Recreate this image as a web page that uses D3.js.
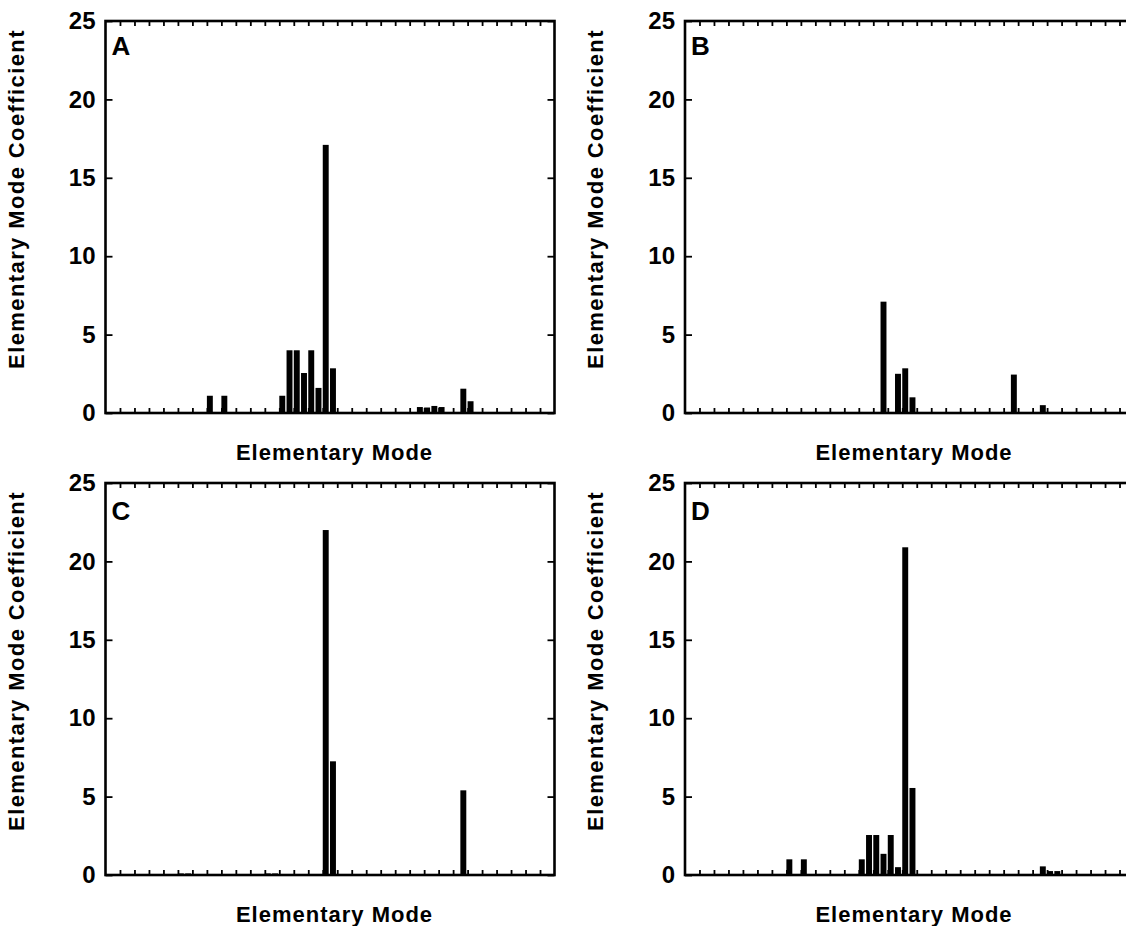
<!DOCTYPE html>
<html>
<head>
<meta charset="utf-8">
<script src="https://cdn.jsdelivr.net/npm/d3@7"></script>
<style>
  body { margin: 0; background: #fff; }
  svg text { font-family: "Liberation Sans", Arial, Helvetica, sans-serif; font-weight: bold; fill: #000; }
</style>
</head>
<body>
<svg id="chart" width="1126" height="926"></svg>
<script>
// Data: bar positions (in tick units) and coefficients
const panelLetters = ["A", "B", "C", "D"];

const modesA  = [7, 8, 12, 12.5, 13, 13.5, 14, 14.5, 15, 15.5, 16, 21.5, 22, 22.5, 23, 24, 24.5, 25];
const valuesA = [1.1, 1.1, 1.1, 4.0, 4.0, 2.55, 4.0, 1.6, 17.1, 2.85, 0.05, 0.38, 0.35, 0.45, 0.38, 0.05, 1.55, 0.75];

const modesB  = [13.5, 14.5, 15, 15.5, 22.5, 24.5];
const valuesB = [7.1, 2.5, 2.85, 1.0, 2.45, 0.5];

const modesC  = [5, 5.5, 11, 11.5, 15, 15.5, 24.5];
const valuesC = [0.1, 0.1, 0.1, 0.1, 22.0, 7.25, 5.4];

const modesD  = [7, 8, 12, 12.5, 13, 13.5, 14, 14.5, 15, 15.5, 24.5, 25, 25.5];
const valuesD = [1.0, 1.0, 1.0, 2.55, 2.55, 1.35, 2.55, 0.5, 20.9, 5.55, 0.55, 0.25, 0.25];

const yTicks = [0, 5, 10, 15, 20, 25];
const xTicks = d3.range(1, 31);

const xTitle = "Elementary Mode";
const yTitle = "Elementary Mode Coefficient";

// Layout
const plotW = 449, plotH = 392;
const panels = [
    { letter: panelLetters[0], modes: modesA, values: valuesA, left: 105.5, top: 21 },
    { letter: panelLetters[1], modes: modesB, values: valuesB, left: 685, top: 21 },
    { letter: panelLetters[2], modes: modesC, values: valuesC, left: 105.5, top: 483 },
    { letter: panelLetters[3], modes: modesD, values: valuesD, left: 685, top: 483 }
];

const svg = d3.select("#chart");

const x = d3.scaleLinear().domain([0, 31]).range([0, plotW]);
const y = d3.scaleLinear().domain([0, 25]).range([plotH, 0]);
const barW = x(0.41) - x(0);

panels.forEach(p => {
    const g = svg.append("g").attr("transform", `translate(${p.left},${p.top})`);

    // bars
    g.selectAll(".bar")
        .data(p.modes.map((m, i) => ({ m: m, v: p.values[i] })))
        .enter()
        .append("rect")
        .attr("class", "bar")
        .attr("x", d => x(d.m))
        .attr("y", d => y(d.v))
        .attr("width", barW)
        .attr("height", d => plotH - y(d.v))
        .attr("fill", "#000");

    // axes, ticks pointing inward
    const left = g.append("g")
        .call(d3.axisLeft(y).tickValues(yTicks).tickSize(-7).tickPadding(10));
    left.selectAll("text").style("font-size", "24px");

    g.append("g").attr("transform", `translate(${plotW},0)`)
        .call(d3.axisRight(y).tickValues(yTicks).tickSize(-7).tickFormat(""));

    g.append("g").attr("transform", `translate(0,${plotH})`)
        .call(d3.axisBottom(x).tickValues(xTicks).tickSize(-5).tickFormat(""));

    g.append("g")
        .call(d3.axisTop(x).tickValues(xTicks).tickSize(-5).tickFormat(""));

    g.selectAll(".domain").remove();
    g.selectAll(".tick line").attr("stroke", "#000").attr("stroke-width", 1.8);

    // frame
    g.append("rect")
        .attr("width", plotW)
        .attr("height", plotH)
        .attr("fill", "none")
        .attr("stroke", "#000")
        .attr("stroke-width", 2.6);

    // panel letter
    g.append("text")
        .attr("x", 6)
        .attr("y", p.top < 100 ? 34 : 37)
        .style("font-size", "26px")
        .text(p.letter);

    // axis titles
    g.append("text")
        .attr("x", 229)
        .attr("y", plotH + 47)
        .attr("text-anchor", "middle")
        .style("font-size", "22px")
        .style("letter-spacing", "1px")
        .text(xTitle);

    g.append("text")
        .attr("transform", `translate(${-82},${178}) rotate(-90)`)
        .attr("text-anchor", "middle")
        .style("font-size", "22px")
        .style("letter-spacing", "1.4px")
        .text(yTitle);
});
</script>
</body>
</html>
